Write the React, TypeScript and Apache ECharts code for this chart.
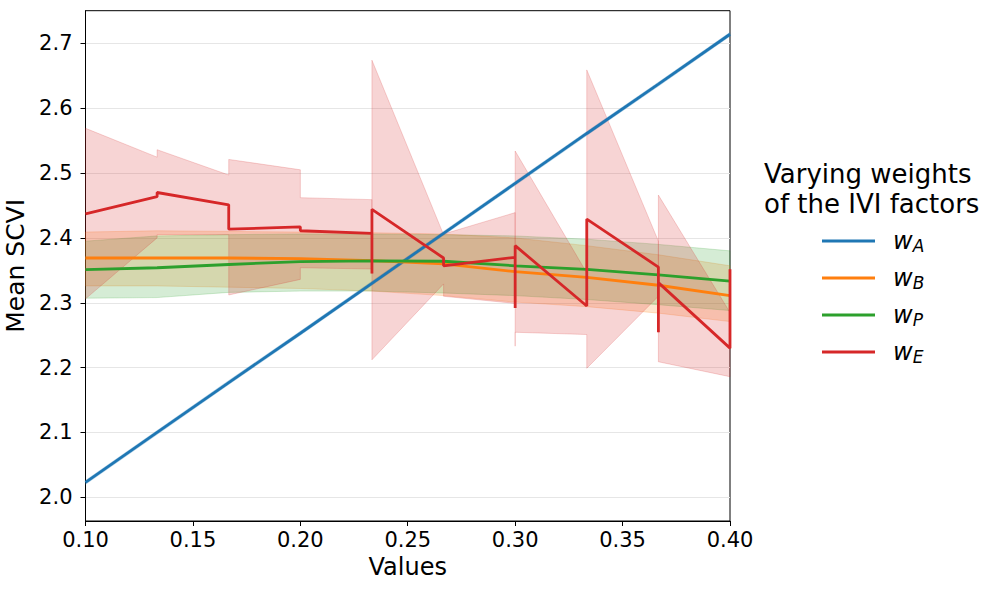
import React, { useEffect, useRef } from "react";
import * as echarts from "echarts";

const xGrid = [0.1, 0.13333, 0.16667, 0.2, 0.23333, 0.26667, 0.3, 0.33333, 0.36667, 0.4];

const blueY = [2.023, 2.1, 2.177, 2.253, 2.33, 2.407, 2.484, 2.561, 2.637, 2.714];
const blueLo = [2.02, 2.097, 2.174, 2.25, 2.327, 2.404, 2.481, 2.558, 2.634, 2.711];
const blueHi = [2.026, 2.103, 2.18, 2.256, 2.333, 2.41, 2.487, 2.564, 2.64, 2.717];

const orangeY = [2.369, 2.369, 2.369, 2.368, 2.365, 2.36, 2.348, 2.339, 2.327, 2.311];
const orangeLo = [2.326, 2.326, 2.324, 2.322, 2.318, 2.311, 2.301, 2.294, 2.284, 2.271];
const orangeHi = [2.409, 2.411, 2.41, 2.409, 2.408, 2.406, 2.4, 2.388, 2.374, 2.357];

const greenY = [2.351, 2.354, 2.359, 2.3635, 2.3645, 2.364, 2.357, 2.3515, 2.343, 2.3335];
const greenLo = [2.307, 2.308, 2.316, 2.318, 2.318, 2.315, 2.311, 2.305, 2.297, 2.288];
const greenHi = [2.395, 2.403, 2.405, 2.406, 2.406, 2.405, 2.403, 2.398, 2.39, 2.38];

const redX = [0.1, 0.13333, 0.13333, 0.16667, 0.16667, 0.2, 0.2, 0.23333, 0.23333, 0.23333, 0.26667, 0.26667, 0.3, 0.3, 0.3, 0.33333, 0.33333, 0.36667, 0.36667, 0.36667, 0.4, 0.4];
const redY = [2.437, 2.4635, 2.47, 2.451, 2.4135, 2.417, 2.411, 2.407, 2.345, 2.444, 2.369, 2.357, 2.37, 2.292, 2.388, 2.295, 2.429, 2.355, 2.2545, 2.331, 2.23, 2.3515];
const redLo = [2.306, 2.4, 2.405, 2.405, 2.312, 2.336, 2.354, 2.352, 2.345, 2.212, 2.329, 2.31, 2.299, 2.233, 2.2545, 2.251, 2.199, 2.31, 2.2545, 2.209, 2.186, 2.3515];
const redHi = [2.569, 2.5245, 2.536, 2.497, 2.521, 2.505, 2.462, 2.459, 2.345, 2.674, 2.405, 2.406, 2.439, 2.35, 2.534, 2.346, 2.659, 2.395, 2.2545, 2.466, 2.285, 2.3515];

const yTicks = [2.0, 2.1, 2.2, 2.3, 2.4, 2.5, 2.6, 2.7];
const legendNames = ["w_A", "w_B", "w_P", "w_E"];
const colors = ["#1f77b4", "#ff7f0e", "#2ca02c", "#d62728"];
const bandFills = [
  "rgba(31,119,180,0.2)",
  "rgba(255,127,14,0.2)",
  "rgba(44,160,44,0.2)",
  "rgba(214,39,40,0.2)",
];

const FONT = "DejaVu Sans";

function pairs(xs: number[], ys: number[]) {
  return xs.map((x, i) => [x, ys[i]]);
}

function bandSeries(name: string, xs: number[], lo: number[], hi: number[], fill: string) {
  return {
    type: "custom",
    name,
    silent: true,
    z: 1,
    data: [[xs[0], lo[0]]],
    renderItem: (params: any, api: any) => {
      const pts: number[][] = [];
      for (let i = 0; i < xs.length; i++) pts.push(api.coord([xs[i], hi[i]]));
      for (let i = xs.length - 1; i >= 0; i--) pts.push(api.coord([xs[i], lo[i]]));
      return {
        type: "polygon",
        shape: { points: pts },
        style: { fill, stroke: fill, lineWidth: 1 },
      };
    },
  };
}

function lineSeries(name: string, data: number[][], color: string) {
  return {
    type: "line",
    name,
    data,
    symbol: "none",
    showSymbol: false,
    z: 3,
    color,
    lineStyle: { color, width: 2.8 },
  };
}

export default function App() {
  const ref = useRef<HTMLDivElement>(null);
  useEffect(() => {
    if (!ref.current) return;
    const chart = echarts.init(ref.current, null, { renderer: "svg" });
    const option: any = {
      animation: false,
      backgroundColor: "#ffffff",
      title: {
        text: "Varying weights\nof the IVI factors",
        left: 759,
        top: 154,
        textStyle: {
          fontFamily: FONT,
          fontSize: 26,
          fontWeight: "normal",
          color: "#000",
          lineHeight: 30,
        },
      },
      legend: {
        data: legendNames,
        orient: "vertical",
        left: 817,
        top: 224,
        icon: "rect",
        itemWidth: 53,
        itemHeight: 3,
        itemGap: 12,
        selectedMode: false,
        formatter: (name: string) => `{w|w}{s|${name.slice(2)}}`,
        textStyle: {
          color: "#000",
          fontFamily: FONT,
          rich: {
            w: {
              fontFamily: FONT,
              fontStyle: "italic",
              fontSize: 24,
              lineHeight: 26,
              color: "#000",
              padding: [0, 0, 0, 13],
              verticalAlign: "middle",
            },
            s: {
              fontFamily: FONT,
              fontStyle: "italic",
              fontSize: 17,
              lineHeight: 26,
              color: "#000",
              verticalAlign: "bottom",
            },
          },
        },
      },
      grid: {
        left: 85.5,
        top: 10.7,
        width: 644.5,
        height: 510.3,
        show: true,
        borderColor: "#000",
        borderWidth: 1,
        backgroundColor: "transparent",
        containLabel: false,
        outerBoundsMode: "none",
      },
      xAxis: {
        type: "value",
        min: 0.1,
        max: 0.4,
        interval: 0.05,
        name: "Values",
        nameLocation: "middle",
        nameGap: 34,
        nameTextStyle: { fontFamily: FONT, fontSize: 24, color: "#000" },
        axisLine: { show: true, lineStyle: { color: "#000", width: 1 } },
        axisTick: { show: true, length: 5, inside: false, lineStyle: { color: "#000" } },
        axisLabel: {
          fontFamily: FONT,
          fontSize: 21,
          color: "#000",
          margin: 8,
          formatter: (v: number) => v.toFixed(2),
        },
        splitLine: { show: false },
      },
      yAxis: {
        type: "value",
        min: 1.9635,
        max: 2.7503,
        splitNumber: 8,
        name: "Mean SCVI",
        nameLocation: "middle",
        nameGap: 50,
        nameTextStyle: { fontFamily: FONT, fontSize: 25, color: "#000" },
        axisLine: { show: true, lineStyle: { color: "#000", width: 1 } },
        axisTick: {
          show: true,
          length: 5,
          inside: false,
          lineStyle: { color: "#000" },
          customValues: yTicks,
        },
        axisLabel: {
          fontFamily: FONT,
          fontSize: 21,
          color: "#000",
          margin: 13,
          customValues: yTicks,
          formatter: (v: number) => v.toFixed(1),
        },
        splitLine: { show: true, lineStyle: { color: "#e6e6e6", width: 1 } },
      },
      series: [
        bandSeries("bandA", xGrid, blueLo, blueHi, bandFills[0]),
        bandSeries("bandB", xGrid, orangeLo, orangeHi, bandFills[1]),
        bandSeries("bandP", xGrid, greenLo, greenHi, bandFills[2]),
        bandSeries("bandE", redX, redLo, redHi, bandFills[3]),
        lineSeries("w_A", pairs(xGrid, blueY), colors[0]),
        lineSeries("w_B", pairs(xGrid, orangeY), colors[1]),
        lineSeries("w_P", pairs(xGrid, greenY), colors[2]),
        lineSeries("w_E", pairs(redX, redY), colors[3]),
      ],
    };
    chart.setOption(option);
    return () => chart.dispose();
  }, []);
  return (
    <div
      ref={ref}
      style={{ position: "fixed", left: 0, top: 0, width: 1004, height: 590, background: "#fff" }}
    />
  );
}
